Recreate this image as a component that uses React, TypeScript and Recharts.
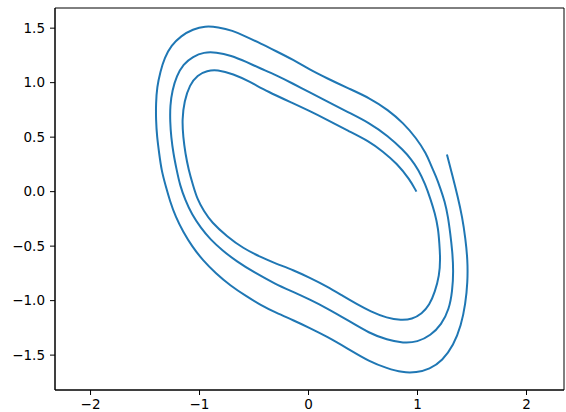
import React from 'react'
import { LineChart, Line, XAxis, YAxis, ReferenceArea } from 'recharts'

// trajectory, one turn of the spiral per array
const innerTurn: [number, number][] = [
  [0.99, 0.0], [0.93, 0.11], [0.81, 0.26], [0.68, 0.37], [0.56, 0.46], [0.36, 0.56],
  [0.17, 0.66], [0.01, 0.74], [-0.14, 0.81], [-0.38, 0.92], [-0.54, 1.01], [-0.69, 1.08],
  [-0.84, 1.12], [-0.93, 1.11], [-1.02, 1.07], [-1.09, 0.98], [-1.14, 0.83], [-1.16, 0.66],
  [-1.15, 0.5], [-1.13, 0.35], [-1.1, 0.2], [-1.06, 0.06], [-1.02, -0.07], [-0.96, -0.18],
  [-0.89, -0.28], [-0.75, -0.41], [-0.6, -0.52], [-0.44, -0.6], [-0.3, -0.66], [-0.14, -0.72],
  [0.01, -0.79], [0.17, -0.87], [0.32, -0.96], [0.44, -1.03], [0.57, -1.1], [0.72, -1.16],
  [0.85, -1.18], [0.95, -1.17], [1.04, -1.12], [1.11, -1.04], [1.16, -0.92], [1.2, -0.77],
  [1.21, -0.62], [1.2, -0.47], [1.19, -0.34], [1.16, -0.2], [1.12, -0.07], [1.07, 0.07],
]

const middleTurn: [number, number][] = [
  [1.01, 0.2], [0.94, 0.3], [0.87, 0.38], [0.73, 0.51], [0.56, 0.63], [0.36, 0.73],
  [0.17, 0.83], [0.01, 0.91], [-0.14, 0.99], [-0.3, 1.07], [-0.44, 1.13], [-0.57, 1.19],
  [-0.71, 1.25], [-0.85, 1.28], [-0.96, 1.28], [-1.06, 1.24], [-1.15, 1.17], [-1.21, 1.06],
  [-1.25, 0.93], [-1.27, 0.79], [-1.27, 0.64], [-1.26, 0.5], [-1.24, 0.35], [-1.21, 0.2],
  [-1.18, 0.06], [-1.13, -0.08], [-1.07, -0.21], [-0.99, -0.33], [-0.9, -0.44], [-0.79, -0.54],
  [-0.66, -0.64], [-0.5, -0.74], [-0.3, -0.85], [-0.14, -0.92], [0.01, -0.99], [0.17, -1.07],
  [0.36, -1.18], [0.56, -1.3], [0.72, -1.36], [0.87, -1.39], [1.0, -1.38], [1.12, -1.32],
  [1.22, -1.22], [1.29, -1.08], [1.32, -0.91], [1.33, -0.73], [1.32, -0.55], [1.3, -0.38],
  [1.28, -0.23], [1.25, -0.09], [1.21, 0.03],
]

const outerTurn: [number, number][] = [
  [1.17, 0.14], [1.12, 0.25], [1.08, 0.35], [0.99, 0.49], [0.87, 0.63], [0.73, 0.75],
  [0.56, 0.86], [0.36, 0.95], [0.17, 1.04], [0.01, 1.12], [-0.14, 1.21], [-0.3, 1.29],
  [-0.44, 1.36], [-0.57, 1.42], [-0.7, 1.48], [-0.83, 1.51], [-0.95, 1.52], [-1.06, 1.49],
  [-1.17, 1.43], [-1.26, 1.34], [-1.32, 1.23], [-1.36, 1.1], [-1.39, 0.96], [-1.4, 0.81],
  [-1.4, 0.66], [-1.39, 0.5], [-1.37, 0.35], [-1.35, 0.2], [-1.31, 0.05], [-1.27, -0.09],
  [-1.22, -0.23], [-1.15, -0.37], [-1.07, -0.5], [-0.97, -0.63], [-0.85, -0.75], [-0.72, -0.86],
  [-0.57, -0.96], [-0.44, -1.04], [-0.3, -1.11], [-0.14, -1.18], [0.01, -1.25], [0.17, -1.33],
  [0.36, -1.44], [0.56, -1.56], [0.72, -1.62], [0.86, -1.66], [0.99, -1.66], [1.11, -1.63],
  [1.23, -1.55], [1.33, -1.41], [1.4, -1.23], [1.44, -1.03], [1.46, -0.83], [1.46, -0.63],
  [1.44, -0.43], [1.41, -0.23], [1.37, -0.05], [1.32, 0.15], [1.27, 0.34],
]

const xTicks = [-2, -1, 0, 1, 2]
const yTicks = [-1.5, -1.0, -0.5, 0.0, 0.5, 1.0, 1.5]

const data = [...innerTurn, ...middleTurn, ...outerTurn].map(([x, y]) => ({ x, y }))

const X_DOMAIN: [number, number] = [-2.326, 2.344]
const Y_DOMAIN: [number, number] = [-1.82, 1.685]

const minus = (s: string) => s.replace('-', '\u2212')
const tickStyle = { fontSize: 13.5, fill: '#000', fontFamily: 'DejaVu Sans' }
const black = { stroke: '#000', strokeWidth: 1 }

export default function App() {
  return (
    <div style={{ position: 'absolute', left: 0, top: 0, width: 566, height: 412, background: '#fff' }}>
      <LineChart
        width={566}
        height={412}
        data={data}
        margin={{ top: 8, right: 2, bottom: 0, left: 0 }}
      >
        <XAxis
          dataKey="x"
          type="number"
          domain={X_DOMAIN}
          ticks={xTicks}
          allowDataOverflow
          height={22}
          tickSize={5}
          tickMargin={4}
          tick={tickStyle}
          tickLine={black}
          axisLine={black}
          tickFormatter={(v) => minus(String(v))}
        />
        <YAxis
          type="number"
          domain={Y_DOMAIN}
          ticks={yTicks}
          allowDataOverflow
          width={55}
          tickSize={5}
          tickMargin={5}
          tick={tickStyle}
          tickLine={black}
          axisLine={black}
          tickFormatter={(v) => minus(Number(v).toFixed(1))}
        />
        {/* box around the plot, like the matplotlib spines */}
        <ReferenceArea
          x1={X_DOMAIN[0]}
          x2={X_DOMAIN[1]}
          y1={Y_DOMAIN[0]}
          y2={Y_DOMAIN[1]}
          fill="none"
          stroke="#000"
          strokeWidth={1}
          ifOverflow="visible"
        />
        <Line
          dataKey="y"
          type="basis"
          stroke="#1f77b4"
          strokeWidth={2}
          dot={false}
          activeDot={false}
          isAnimationActive={false}
        />
      </LineChart>
    </div>
  )
}
